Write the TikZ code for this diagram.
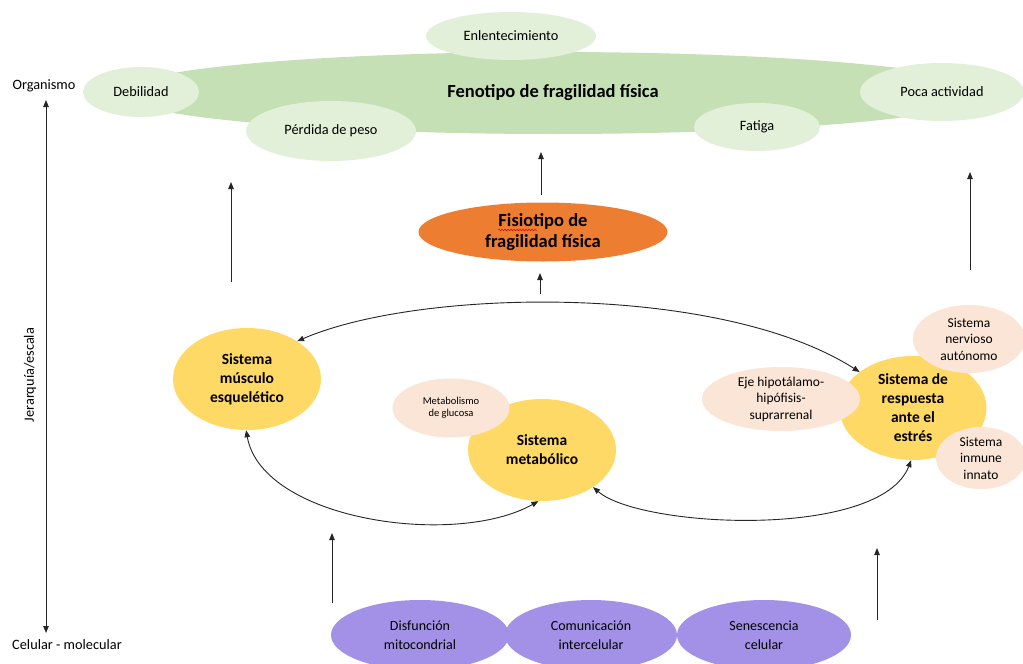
\documentclass[tikz,border=0pt]{standalone}
\usepackage{fontspec}
\setmainfont{Carlito}
\usetikzlibrary{arrows.meta,shapes.geometric,decorations.pathmorphing}

\definecolor{phenfill}{HTML}{C5E0B4}
\definecolor{sympfill}{HTML}{E2F0D9}
\definecolor{fisiofill}{HTML}{ED7D31}
\definecolor{sysfill}{HTML}{FFD966}
\definecolor{subfill}{HTML}{FBE5D6}
\definecolor{cellfill}{HTML}{A291E6}
\definecolor{linecol}{HTML}{262626}

\tikzset{
  blob/.style={shape=ellipse, inner sep=0pt, align=center, text=black},
  symp/.style={blob, fill=sympfill, font=\fontsize{14.3}{17}\selectfont},
  sysnode/.style={blob, fill=sysfill, font=\bfseries\fontsize{15.5}{19}\selectfont},
  subnode/.style={blob, fill=subfill, font=\fontsize{13.5}{16.5}\selectfont},
  cellnode/.style={blob, fill=cellfill, font=\fontsize{14}{19.5}\selectfont},
  plain/.style={inner sep=0pt, text=black, font=\fontsize{14.3}{17}\selectfont},
  link/.style={draw=linecol, line width=0.9pt, -{Triangle[length=7pt,width=5.5pt]}},
  duallink/.style={draw=linecol, line width=0.9pt, {Triangle[length=7pt,width=5.5pt]}-{Triangle[length=7pt,width=5.5pt]}}
}

\begin{document}
\begin{tikzpicture}[x=1pt,y=-1pt]
\fill[white] (0,0) rectangle (1023,664);
\useasboundingbox (0,0) rectangle (1023,664);
\clip (0,0) rectangle (1023,664);

% ---- organism level: physical frailty phenotype ----
\node[blob, fill=phenfill, minimum width=870, minimum height=82,
      font=\bfseries\fontsize{18.5}{22}\selectfont] (phen) at (553,93) {Fenotipo de fragilidad física};
\node[symp, minimum width=170, minimum height=48] (slow) at (511,36) {Enlentecimiento};
\node[symp, minimum width=116, minimum height=50] (weak) at (141,92) {Debilidad};
\node[symp, minimum width=170, minimum height=60] (loss) at (331,131) {Pérdida de peso};
\node[symp, minimum width=126, minimum height=48] (fatig) at (757,127) {Fatiga};
\node[symp, minimum width=164, minimum height=58] (lowact) at (942,92) {Poca actividad};

% ---- scale axis ----
\node[plain] (orgtxt) at (44,86) {Organismo};
\node[plain] (celltxt) at (67,645) {Celular - molecular};
\coordinate (axtop) at (46,100);
\coordinate (axbot) at (46,633);
\draw[duallink] (axtop) -- (axbot);
\node[plain, rotate=90] (axlabel) at (30,375) {Jerarquía/escala};

% ---- physiotype ----
\node[blob, fill=fisiofill, minimum width=249, minimum height=59,
      font=\bfseries\fontsize{18.5}{21.5}\selectfont] (fisio) at (543,232) {Fisiotipo de\\fragilidad física};
\draw[red!85!black, line width=0.5pt, decorate,
      decoration={snake, amplitude=0.7pt, segment length=3pt}] (498,230) -- (537,230);

% ---- physiological systems ----
\node[sysnode, minimum width=148, minimum height=102] (msk) at (247,379) {Sistema\\músculo\\esquelético};
\node[sysnode, minimum width=148, minimum height=102] (meta) at (542,450) {Sistema\\metabólico};
\node[sysnode, minimum width=147, minimum height=104] (stress) at (913,408) {Sistema de\\respuesta\\ante el\\estrés};

\node[blob, fill=subfill, minimum width=117, minimum height=59,
      font=\fontsize{10.5}{12}\selectfont] (gluc) at (451,408) {Metabolismo\\de glucosa};
\node[subnode, minimum width=158, minimum height=64] (hpa) at (781,399) {Eje hipotálamo-\\hipófisis-\\suprarrenal};
\node[subnode, minimum width=112, minimum height=68] (ans) at (969,339) {Sistema\\nervioso\\autónomo};
\node[subnode, minimum width=90, minimum height=62] (innate) at (981,458) {Sistema\\inmune\\innato};

% ---- cellular / molecular level ----
\node[cellnode, minimum width=178, minimum height=70] (mito) at (420,635) {Disfunción\\mitocondrial};
\node[cellnode, minimum width=172, minimum height=70] (comm) at (591,635) {Comunicación\\intercelular};
\node[cellnode, minimum width=174, minimum height=70] (senes) at (764,635) {Senescencia\\celular};

% ---- upward arrows ----
\coordinate (upAfrom) at (231,282);
\coordinate (upAto) at (231,182);
\draw[link] (upAfrom) -- (upAto);
\coordinate (upBfrom) at (541,195);
\coordinate (upBto) at (541,152);
\draw[link] (upBfrom) -- (upBto);
\coordinate (upCfrom) at (970,270);
\coordinate (upCto) at (970,172);
\draw[link] (upCfrom) -- (upCto);
\coordinate (upDfrom) at (540,294);
\coordinate (upDto) at (540,273);
\draw[link] (upDfrom) -- (upDto);
\coordinate (upEfrom) at (332,603);
\coordinate (upEto) at (332,533);
\draw[link] (upEfrom) -- (upEto);
\coordinate (upFfrom) at (877,620);
\coordinate (upFto) at (877,548);
\draw[link] (upFfrom) -- (upFto);

% ---- interactions between systems ----
\draw[duallink] (msk.37) .. controls (420,288) and (720,283) .. (stress.146);
\draw[duallink] (msk.-91) .. controls (262,520) and (455,548) .. (meta.-94);
\draw[duallink] (meta.-36) .. controls (640,528) and (880,540) .. (stress.-92);
\end{tikzpicture}
\end{document}
